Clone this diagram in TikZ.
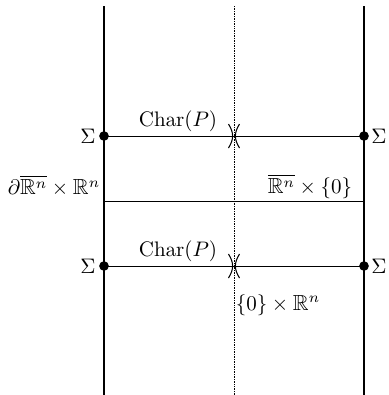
\documentclass[tikz,border=0pt]{standalone}
\usepackage{amsmath,amssymb}
\begin{document}
\begin{tikzpicture}[x=0.476pt,y=-0.476pt,
  wall/.style={line width=1.1pt},
  midline/.style={line width=0.4pt,dash pattern=on 0.4pt off 0.4pt},
  hline/.style={line width=0.45pt},
  dotmark/.style={circle,fill=black,inner sep=0pt,minimum size=4.6pt},
  lbl/.style={inner sep=0pt,font=\fontsize{10.4pt}{12.5pt}\selectfont},
  cusp/.style={line width=0.5pt}]
\useasboundingbox (0,0) rectangle (389,395);
% vertical lines
\coordinate (LT) at (104,6);  \coordinate (LB) at (104,395);
\coordinate (MT) at (234,6);  \coordinate (MB) at (234,395);
\coordinate (RT) at (364,6);  \coordinate (RB) at (364,395);
\draw[wall] (LT) -- (LB);
\draw[wall] (RT) -- (RB);
\draw[midline] (MT) -- (MB);
% horizontal lines
\node[dotmark] (d1) at (104,136) {};
\node[dotmark] (d2) at (364,136) {};
\node[dotmark] (d3) at (104,266) {};
\node[dotmark] (d4) at (364,266) {};
\draw[hline] (d1.center) -- (d2.center);
\draw[hline] (d3.center) -- (d4.center);
\coordinate (bl) at (104,201); \coordinate (br) at (364,201);
\draw[hline] (bl) -- (br);
% cusps
\coordinate (c1) at (234,136);
\coordinate (c2) at (234,266);
\foreach \c in {c1,c2}{
  \draw[cusp] ([shift={(-5.5,-12)}]\c) .. controls ([shift={(0,-3)}]\c) and ([shift={(0,3)}]\c) .. ([shift={(-5.5,12)}]\c);
  \draw[cusp] ([shift={(5.5,-12)}]\c) .. controls ([shift={(0,-3)}]\c) and ([shift={(0,3)}]\c) .. ([shift={(5.5,12)}]\c);
}
% labels
\node[lbl] (s1) at (88,136) {$\Sigma$};
\node[lbl] (s2) at (379,136) {$\Sigma$};
\node[lbl] (s3) at (88,266) {$\Sigma$};
\node[lbl] (s4) at (379,266) {$\Sigma$};
\node[lbl] (ch1) at (178,121) {$\mathrm{Char}(P)$};
\node[lbl] (ch2) at (178,251) {$\mathrm{Char}(P)$};
\node[lbl] (bd) at (54,186) {$\partial\overline{\mathbb{R}^n}\times\mathbb{R}^n$};
\node[lbl] (hp) at (310,186) {$\overline{\mathbb{R}^n}\times\{0\}$};
\node[lbl] (zr) at (278,305) {$\{0\}\times\mathbb{R}^n$};
\end{tikzpicture}
\end{document}
